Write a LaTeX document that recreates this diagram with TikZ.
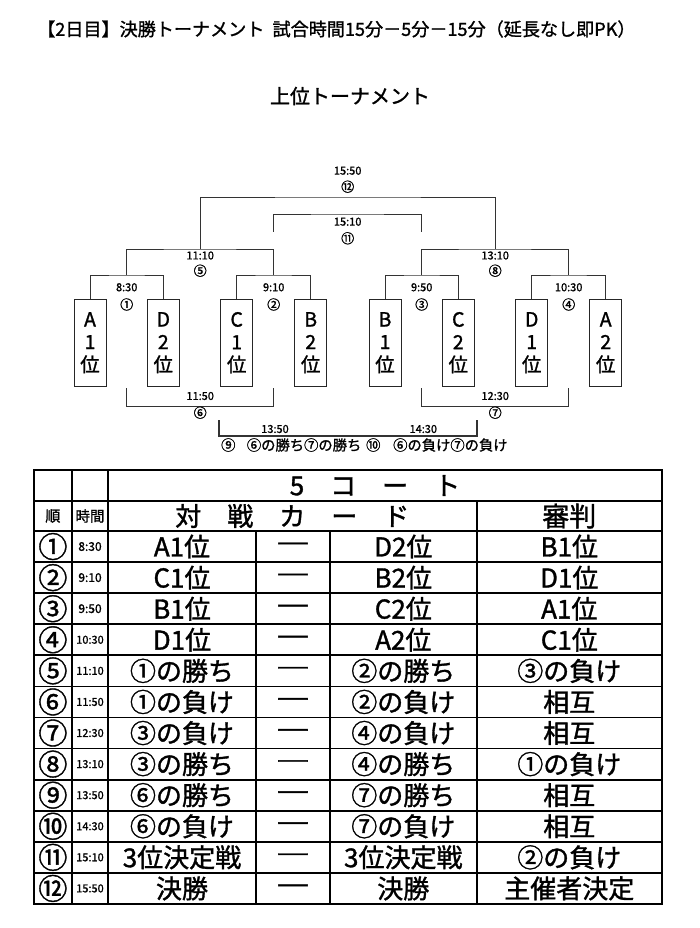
\documentclass[tikz,border=0pt]{standalone}
\usepackage{fontspec}
\setmainfont{Noto Sans CJK JP}[FakeBold=1.3]
\newcommand\fsz[2]{\fontsize{#1bp}{#2bp}\selectfont}
\begin{document}
\begin{tikzpicture}[x=1bp,y=-1bp,
  br/.style={line width=1bp, draw=black!80},
  team/.style={draw=black!85, line width=1bp, minimum width=32bp, minimum height=86.7bp, inner sep=0pt, align=center, font=\fsz{19.5}{22.6}},
  tm/.style={font=\fsz{11}{11}, inner sep=0pt},
  cn/.style={font=\fsz{13}{13}, inner sep=0pt},
  gridl/.style={line width=1.7bp, draw=black},
  cell/.style={inner sep=0pt, font=\fsz{26}{26}},
]
\useasboundingbox (0,0) rectangle (700,928);
% titles
\node[font=\fsz{18.1}{18}, anchor=west, inner sep=0pt] (title) at (37,29) {【2日目】決勝トーナメント\ \ 試合時間15分－5分－15分（延長なし即PK）};
\node[font=\fsz{20}{20}, inner sep=0pt] (sub) at (350,96) {上位トーナメント};
% teams
\foreach \n/\x/\a/\b in {A1/90/A/1, D2/163.3/D/2, C1/236.7/C/1, B2/310.7/B/2, B1/385/B/1, C2/458.3/C/2, D1/531.7/D/1, A2/605.7/A/2}
  \node[team] (\n) at (\x,342.7) {\a\\\b\\位};
% bracket coordinates
\coordinate (m1) at (126.7,275);
\coordinate (m2) at (273.7,275);
\coordinate (m3) at (421.7,275);
\coordinate (m4) at (568.7,275);
\coordinate (m5) at (200.2,249);
\coordinate (m8) at (495.2,249);
\coordinate (m12) at (347.7,197);
\coordinate (e11a) at (273.7,231.7);
\coordinate (e11b) at (421.7,231.7);
\coordinate (m11) at (347.7,214);
\coordinate (l6a) at (126.7,388.3);
\coordinate (l6b) at (273.7,388.3);
\coordinate (m6) at (200.2,406.7);
\coordinate (l7a) at (421.7,388.3);
\coordinate (l7b) at (568.7,388.3);
\coordinate (m7) at (495.2,406.7);
\coordinate (l9a) at (219,420);
\coordinate (l10b) at (476.7,420);
\coordinate (m9) at (347.85,436);
% brackets
\draw[br] (A1.north) |- (m1) -| (D2.north);
\draw[br] (C1.north) |- (m2) -| (B2.north);
\draw[br] (B1.north) |- (m3) -| (C2.north);
\draw[br] (D1.north) |- (m4) -| (A2.north);
\draw[br] (m1) |- (m5) -| (m2);
\draw[br] (m3) |- (m8) -| (m4);
\draw[br] (m5) |- (m12) -| (m8);
\draw[br] (e11a) |- (m11) -| (e11b);
\draw[br] (l6a) |- (m6) -| (l6b);
\draw[br] (l7a) |- (m7) -| (l7b);
\draw[br, line width=2bp] (l9a) |- (m9) -| (l10b);
% bracket labels
\node[tm] (bt12) at (347.7,170.7) {15:50};
\node[cn] (bc12) at (347.7,186.7) {⑫};
\node[tm] (bt11) at (347.7,221.7) {15:10};
\node[cn] (bc11) at (347.7,238.3) {⑪};
\node[tm] (bt5) at (200.2,255.5) {11:10};
\node[cn] (bc5) at (200.2,270.7) {⑤};
\node[tm] (bt8) at (495.2,255.5) {13:10};
\node[cn] (bc8) at (495.2,270.7) {⑧};
\node[tm] (bt1) at (126.7,287.3) {8:30};
\node[cn] (bc1) at (126.7,304.5) {①};
\node[tm] (bt2) at (273.7,287.3) {9:10};
\node[cn] (bc2) at (273.7,304.5) {②};
\node[tm] (bt3) at (421.7,287.3) {9:50};
\node[cn] (bc3) at (421.7,304.5) {③};
\node[tm] (bt4) at (568.7,287.3) {10:30};
\node[cn] (bc4) at (568.7,304.5) {④};
\node[tm] (bt6) at (200.2,396) {11:50};
\node[cn] (bc6) at (200.2,412.7) {⑥};
\node[tm] (bt7) at (495.2,396) {12:30};
\node[cn] (bc7) at (495.2,412.7) {⑦};
\node[tm] (bt9) at (275,429) {13:50};
\node[tm] (bt10) at (423.3,429) {14:30};
\node[cn, font=\fsz{14.3}{14.3}] (bb9) at (228.3,445) {⑨};
\node[cn, font=\fsz{14.3}{14.3}, anchor=west] (bb9t) at (246.7,445) {⑥の勝ち⑦の勝ち};
\node[cn, font=\fsz{14.3}{14.3}] (bb10) at (373.3,445) {⑩};
\node[cn, font=\fsz{14.3}{14.3}, anchor=west] (bb10t) at (393,445) {⑥の負け⑦の負け};
% table grid
\foreach \i in {1,...,11}
  \draw[gridl] (34,531+31.08*\i) -- (661.7,531+31.08*\i);
\draw[gridl] (34,500.7) -- (661.7,500.7);
\draw[gridl] (34,531) -- (661.7,531);
\draw[gridl] (71.7,470) -- (71.7,904);
\draw[gridl] (108.3,470) -- (108.3,904);
\draw[gridl] (476.7,500.7) -- (476.7,904);
\draw[gridl] (255.7,531) -- (255.7,904);
\draw[gridl] (330,531) -- (330,904);
\draw[line width=2.3bp] (34,470) rectangle (661.7,904);
% table header
\node[cell] (court) at (375,485.5) {5　コ　ー　ト};
\node[cell] (card) at (292.3,516) {対　戦　カ　ー　ド};
\node[cell, font=\fsz{27}{27}] (ref) at (569.3,516) {審判};
\node[cell, font=\fsz{15}{15}] (jun) at (52.9,516) {順};
\node[cell, font=\fsz{14.5}{14.5}] (jikan) at (90,516) {時間};
% table rows
\foreach \i/\n/\t/\s/\a/\b/\c in {
  1/①/8:30/12/A1位/D2位/B1位,
  2/②/9:10/12/C1位/B2位/D1位,
  3/③/9:50/12/B1位/C2位/A1位,
  4/④/10:30/11/D1位/A2位/C1位,
  5/⑤/11:10/11/①の勝ち/②の勝ち/③の負け,
  6/⑥/11:50/11/①の負け/②の負け/相互,
  7/⑦/12:30/11/③の負け/④の負け/相互,
  8/⑧/13:10/11/③の勝ち/④の勝ち/①の負け,
  9/⑨/13:50/11/⑥の勝ち/⑦の勝ち/相互,
  10/⑩/14:30/11/⑥の負け/⑦の負け/相互,
  11/⑪/15:10/11/3位決定戦/3位決定戦/②の負け,
  12/⑫/15:50/11/決勝/決勝/主催者決定}{
  \pgfmathsetmacro\yy{531+31.08*(\i-0.5)}
  \node[cell, font=\fsz{29}{29}] (n\i) at (52.9,\yy) {\n};
  \node[cell, font=\fsz{\s}{\s}] (t\i) at (90,\yy) {\t};
  \node[cell] (a\i) at (182,\yy) {\a};
  \node[cell, font=\fsz{34}{34}] (d\i) at (293,\yy+3) {―};
  \node[cell] (b\i) at (403.3,\yy) {\b};
  \node[cell] (c\i) at (569.3,\yy) {\c};
}
\end{tikzpicture}
\end{document}
